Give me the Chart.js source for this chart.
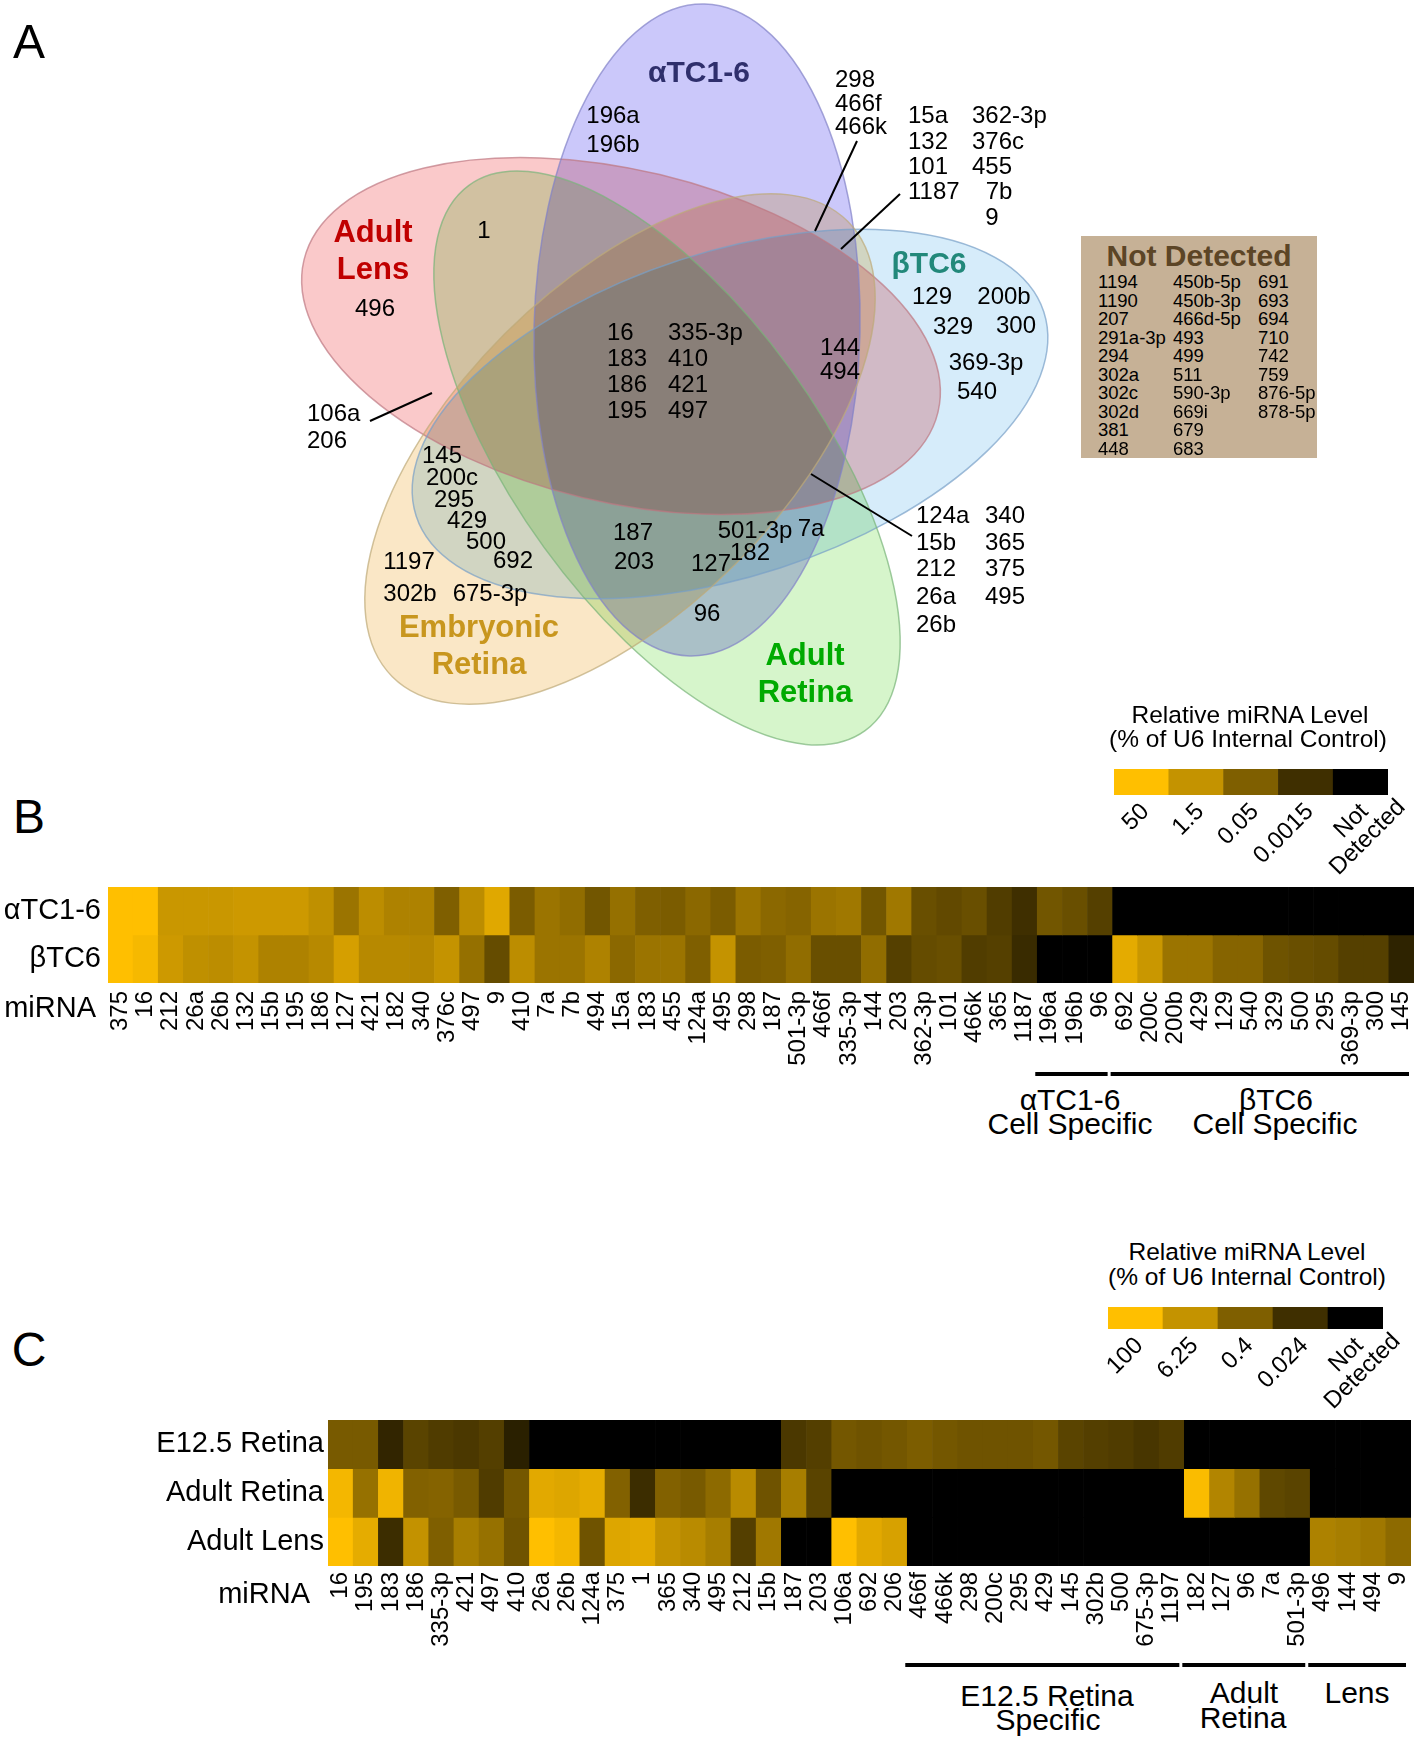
<!DOCTYPE html>
<html>
<head>
<meta charset="utf-8">
<script src="https://cdn.jsdelivr.net/npm/chart.js@4.4.1/dist/chart.umd.min.js"></script>
<style>
  body { margin: 0; background: #fff; }
  #page { position: relative; width: 1418px; height: 1739px; overflow: hidden; background: #fff;
          font-family: 'Liberation Sans', Arial, sans-serif; color: #000; }
  #page canvas { position: absolute; }
  .t { position: absolute; white-space: nowrap; line-height: 1; }
  #nd { position: absolute; left: 1081px; top: 236px; width: 236px; height: 222px; background: #c6b196; }
</style>
</head>
<body>
<div id="page">
  <canvas id="venn" width="1418" height="760" style="left:0;top:0"></canvas>
  <div id="nd"></div>
  <canvas id="legendB" width="418" height="140" style="left:1000px;top:760px"></canvas>
  <canvas id="heatB" width="1418" height="200" style="left:0;top:880px"></canvas>
  <canvas id="legendC" width="418" height="140" style="left:1000px;top:1299px"></canvas>
  <canvas id="heatC" width="1418" height="260" style="left:0;top:1412px"></canvas>
</div>
<script>
// ---------- panel A : miRNAs in each Venn region ----------
const alphaOnly = ['196a', '196b']
const lensOnly = ['496']
const lensAdultRetina = ['1']
const alphaBetaLeft = ['298', '466f', '466k']
const alphaBetaRight = ['15a', '132', '101', '1187', '362-3p', '376c', '455', '7b', '9']
const betaOnly = ['129', '200b', '329', '300', '369-3p', '540']
const allFive = ['16', '183', '186', '195', '335-3p', '410', '421', '497']
const alphaBetaLens = ['144', '494']
const lensEmbryonic = ['106a', '206']
const betaEmbryonic = ['145', '200c', '295', '429', '500', '692']
const embryonicOnly = ['1197', '302b', '675-3p']
const noLens = ['187', '203']
const alphaBetaRetina = ['501-3p', '7a', '182', '127']
const alphaRetina = ['96']
const noEmbryonic = ['124a', '15b', '212', '26a', '26b', '340', '365', '375', '495']
const notDetected = ['1194', '1190', '207', '291a-3p', '294', '302a', '302c', '302d', '381', '448',
  '450b-5p', '450b-3p', '466d-5p', '493', '499', '511', '590-3p', '669i', '679', '683',
  '691', '693', '694', '710', '742', '759', '876-5p', '878-5p']

// ---------- panel B : αTC1-6 / βTC6 ----------
const mirnaB = ['375', '16', '212', '26a', '26b', '132', '15b', '195', '186', '127', '421', '182', '340', '376c',
  '497', '9', '410', '7a', '7b', '494', '15a', '183', '455', '124a', '495', '298', '187', '501-3p', '466f',
  '335-3p', '144', '203', '362-3p', '101', '466k', '365', '1187', '196a', '196b', '96', '692', '200c', '200b',
  '429', '129', '540', '329', '500', '295', '369-3p', '300', '145']
const rowsB = ['αTC1-6', 'βTC6']
// % of U6, null = not detected
const alphaTC = [50, 50, 2, 2, 2, 2.5, 2.5, 2.5, 1.2, 0.2, 1, 0.5, 0.5, 0.05, 1, 8, 0.04, 0.2, 0.12, 0.025,
  0.15, 0.05, 0.04, 0.09, 0.04, 0.2, 0.09, 0.07, 0.2, 0.25, 0.025, 0.25, 0.015, 0.01, 0.015, 0.004, 0.0015,
  0.025, 0.015, 0.005, null, null, null, null, null, null, null, null, null, null, null, null]
const betaTC = [50, 30, 2.5, 1.2, 1, 1.5, 0.5, 0.5, 0.8, 4, 0.8, 0.8, 0.7, 1.5, 0.15, 0.012, 1, 0.2, 0.2, 0.5,
  0.09, 0.2, 0.2, 0.05, 1.5, 0.04, 0.05, 0.12, 0.015, 0.015, 0.12, 0.005, 0.012, 0.015, 0.004, 0.005, 0.001,
  null, null, null, 10, 2, 0.2, 0.2, 0.07, 0.07, 0.02, 0.015, 0.012, 0.005, 0.005, 0.0005]
const legendTicksB = [50, 1.5, 0.05, 0.0015]

// ---------- panel C : retina / lens ----------
const mirnaC = ['16', '195', '183', '186', '335-3p', '421', '497', '410', '26a', '26b', '124a', '375', '1', '365',
  '340', '495', '212', '15b', '187', '203', '106a', '692', '206', '466f', '466k', '298', '200c', '295', '429',
  '145', '302b', '500', '675-3p', '1197', '182', '127', '96', '7a', '501-3p', '496', '144', '494', '9']
const rowsC = ['E12.5 Retina', 'Adult Retina', 'Adult Lens']
const e125Retina = [0.3, 0.3, 0.012, 0.08, 0.05, 0.04, 0.06, 0.008, null, null, null, null, null, null, null,
  null, null, null, 0.04, 0.06, 0.25, 0.2, 0.25, 0.35, 0.25, 0.2, 0.2, 0.2, 0.25, 0.08, 0.06, 0.05, 0.035, 0.05,
  null, null, null, null, null, null, null, null, null]
const adultRetina = [60, 1, 50, 0.45, 0.5, 0.3, 0.05, 0.25, 25, 20, 30, 0.45, 0.02, 0.45, 0.3, 0.7, 4, 0.2, 2,
  0.08, null, null, null, null, null, null, null, null, null, null, null, null, null, null, 80, 3, 1, 0.1, 0.08,
  null, null, null, null]
const adultLens = [100, 30, 0.02, 6, 0.4, 2, 1, 0.2, 100, 60, 0.2, 20, 25, 6, 4, 2, 0.06, 1.5, null, null, 100,
  25, 15, null, null, null, null, null, null, null, null, null, null, null, null, null, null, null, null,
  2.5, 2, 1.5, 0.7]
const legendTicksC = [100, 6.25, 0.4, 0.024]

// ---------- drawing setup ----------
Chart.defaults.font.family = "'Liberation Sans', Arial, sans-serif"
Chart.defaults.color = '#000'
Chart.defaults.animation = false

const page = document.getElementById('page')
const shade = [255, 196, 127, 63]

function addText(txt, x, y, size, opts = {}) {
  const el = document.createElement('div')
  el.className = 't'
  el.textContent = txt
  el.style.left = x + 'px'
  el.style.top = y + 'px'
  el.style.fontSize = size + 'px'
  if (opts.bold) el.style.fontWeight = 'bold'
  if (opts.color) el.style.color = opts.color
  const align = opts.align || 'c'
  el.style.transform = align === 'c' ? 'translate(-50%,-50%)' : align === 'r' ? 'translate(-100%,-50%)' : 'translate(0,-50%)'
  ;(opts.parent || page).appendChild(el)
}

function shadeColor(r) {
  return `rgb(${Math.round(r)}, ${Math.round(r * 0.75)}, 0)`
}

function makeStops(ticks) {
  const s = ticks.map((t, i) => [Math.log10(t), shade[i]])
  const step = s[2][0] - s[3][0]
  s.push([s[3][0] - step, 10])
  return s
}

function levelColor(v, stops) {
  if (v === null) return '#000'
  const L = Math.log10(v)
  if (L >= stops[0][0]) return shadeColor(stops[0][1])
  for (let i = 0; i < stops.length - 1; i++) {
    const [l0, r0] = stops[i]
    const [l1, r1] = stops[i + 1]
    if (L <= l0 && L >= l1) return shadeColor(r1 + (r0 - r1) * (L - l1) / (l0 - l1))
  }
  return shadeColor(stops[stops.length - 1][1])
}

function zeroPad(s) {
  s.paddingLeft = 0
  s.paddingRight = 0
  s.paddingTop = 0
  s.paddingBottom = 0
}

// ---------- panel A ----------
const vennShapes = [
  { name: 'Adult Lens', cx: 621, cy: 336, a: 326, b: 166, rot: 13.5, fill: 'rgb(250,201,202)', line: 'rgba(190,120,130,0.7)' },
  { name: 'αTC1-6', cx: 697, cy: 330, a: 326, b: 163, rot: 91.3, fill: 'rgb(203,200,250)', line: 'rgba(130,130,200,0.7)' },
  { name: 'βTC6', cx: 730, cy: 414, a: 330, b: 162, rot: -18, fill: 'rgb(214,236,250)', line: 'rgba(120,160,200,0.7)' },
  { name: 'Adult Retina', cx: 667, cy: 458, a: 337, b: 152, rot: 54, fill: 'rgb(214,245,203)', line: 'rgba(120,180,120,0.7)' },
  { name: 'Embryonic Retina', cx: 620, cy: 449, a: 322, b: 163, rot: -45, fill: 'rgb(250,231,198)', line: 'rgba(190,170,120,0.7)' }
]
const vennLeaders = [[815, 231, 857, 141], [841, 249, 900, 194], [370, 421, 432, 393], [811, 474, 912, 536]]

const vennPlugin = {
  id: 'vennShapes',
  beforeDatasetsDraw(chart) {
    const { ctx, scales: { x, y } } = chart
    const k = x.getPixelForValue(1) - x.getPixelForValue(0)
    ctx.save()
    ctx.fillStyle = '#fff'
    ctx.fillRect(0, 0, chart.width, chart.height)
    ctx.globalCompositeOperation = 'multiply'
    vennShapes.forEach(s => {
      ctx.beginPath()
      ctx.ellipse(x.getPixelForValue(s.cx), y.getPixelForValue(s.cy), s.a * k, s.b * k, s.rot * Math.PI / 180, 0, Math.PI * 2)
      ctx.fillStyle = s.fill
      ctx.fill()
    })
    ctx.globalCompositeOperation = 'source-over'
    vennShapes.forEach(s => {
      ctx.beginPath()
      ctx.ellipse(x.getPixelForValue(s.cx), y.getPixelForValue(s.cy), s.a * k, s.b * k, s.rot * Math.PI / 180, 0, Math.PI * 2)
      ctx.strokeStyle = s.line
      ctx.lineWidth = 1.5
      ctx.stroke()
    })
    ctx.strokeStyle = '#000'
    ctx.lineWidth = 2
    vennLeaders.forEach(([x1, y1, x2, y2]) => {
      ctx.beginPath()
      ctx.moveTo(x.getPixelForValue(x1), y.getPixelForValue(y1))
      ctx.lineTo(x.getPixelForValue(x2), y.getPixelForValue(y2))
      ctx.stroke()
    })
    ctx.restore()
  }
}

new Chart(document.getElementById('venn'), {
  type: 'scatter',
  data: { datasets: [{ data: vennShapes.map(s => ({ x: s.cx, y: s.cy })), pointRadius: 0 }] },
  options: {
    responsive: false,
    events: [],
    layout: { padding: 0, autoPadding: false },
    plugins: { legend: { display: false }, tooltip: { enabled: false } },
    scales: {
      x: { type: 'linear', min: 0, max: 1418, display: false },
      y: { type: 'linear', min: 0, max: 760, reverse: true, display: false }
    }
  },
  plugins: [vennPlugin]
})

// where each region's names sit
const vennSpots = [
  [alphaOnly, [[613, 115, 'c'], [613, 144, 'c']]],
  [lensOnly, [[375, 308, 'c']]],
  [lensAdultRetina, [[484, 230, 'c']]],
  [alphaBetaLeft, [[835, 79, 'l'], [835, 103, 'l'], [835, 126, 'l']]],
  [alphaBetaRight, [[908, 115, 'l'], [908, 141, 'l'], [908, 166, 'l'], [908, 191, 'l'], [972, 115, 'l'],
    [972, 141, 'l'], [972, 166, 'l'], [999, 191, 'c'], [992, 217, 'c']]],
  [betaOnly, [[932, 296, 'c'], [1004, 296, 'c'], [953, 326, 'c'], [1016, 325, 'c'], [986, 362, 'c'], [977, 391, 'c']]],
  [allFive, [[607, 332, 'l'], [607, 358, 'l'], [607, 384, 'l'], [607, 410, 'l'], [668, 332, 'l'], [668, 358, 'l'],
    [668, 384, 'l'], [668, 410, 'l']]],
  [alphaBetaLens, [[840, 347, 'c'], [840, 371, 'c']]],
  [lensEmbryonic, [[307, 413, 'l'], [307, 440, 'l']]],
  [betaEmbryonic, [[442, 455, 'c'], [452, 477, 'c'], [454, 499, 'c'], [467, 520, 'c'], [486, 541, 'c'], [513, 560, 'c']]],
  [embryonicOnly, [[409, 561, 'c'], [410, 593, 'c'], [490, 593, 'c']]],
  [noLens, [[633, 532, 'c'], [634, 561, 'c']]],
  [alphaBetaRetina, [[755, 530, 'c'], [811, 528, 'c'], [750, 552, 'c'], [711, 563, 'c']]],
  [alphaRetina, [[707, 613, 'c']]],
  [noEmbryonic, [[916, 515, 'l'], [916, 542, 'l'], [916, 568, 'l'], [916, 596, 'l'], [916, 624, 'l'], [985, 515, 'l'],
    [985, 542, 'l'], [985, 568, 'l'], [985, 596, 'l']]]
]
vennSpots.forEach(([names, spots]) => {
  names.forEach((n, i) => addText(n, spots[i][0], spots[i][1], 24, { align: spots[i][2] }))
})

addText('αTC1-6', 699, 72, 30, { bold: true, color: '#2f2f6c' })
addText('Adult', 373, 231, 31, { bold: true, color: '#c00000' })
addText('Lens', 373, 268, 31, { bold: true, color: '#c00000' })
addText('βTC6', 929, 263, 30, { bold: true, color: '#22887a' })
addText('Embryonic', 479, 626, 31, { bold: true, color: '#c8961e' })
addText('Retina', 479, 663, 31, { bold: true, color: '#c8961e' })
addText('Adult', 805, 654, 31, { bold: true, color: '#00aa00' })
addText('Retina', 805, 691, 31, { bold: true, color: '#00aa00' })

// not detected box
const nd = document.getElementById('nd')
addText('Not Detected', 118, 20, 30, { bold: true, color: '#5c4526', parent: nd })
const ndCols = [17, 92, 177]
notDetected.forEach((n, i) => {
  const col = Math.floor(i / 10)
  const row = i % 10
  addText(n, ndCols[col], 46 + row * 18.5, 18.5, { align: 'l', parent: nd })
})

addText('A', 29, 42, 48)
addText('B', 29, 817, 48)
addText('C', 29, 1350, 48)

// ---------- heatmaps ----------
function bracketPlugin(groups, yPos) {
  return {
    id: 'brackets',
    afterDraw(chart) {
      const { ctx, scales: { x } } = chart
      const labels = x.getLabels()
      const half = (x.getPixelForValue(1) - x.getPixelForValue(0)) / 2
      ctx.save()
      ctx.fillStyle = '#000'
      groups.forEach(([from, to]) => {
        const left = x.getPixelForValue(labels.indexOf(from)) - half - 2
        const right = x.getPixelForValue(labels.indexOf(to)) + half - 5
        ctx.fillRect(left, yPos - 2, right - left, 4)
      })
      ctx.restore()
    }
  }
}

function makeHeatmap(id, labels, rows, rowNames, stops, box, groups) {
  const n = rows.length
  return new Chart(document.getElementById(id), {
    type: 'bar',
    data: {
      labels: labels,
      datasets: rows.map((vals, i) => ({
        label: rowNames[i],
        data: vals.map(() => [n - 1 - i, n - i]),
        backgroundColor: vals.map(v => levelColor(v, stops)),
        borderWidth: 0,
        barPercentage: 1,
        categoryPercentage: 1,
        grouped: false
      }))
    },
    options: {
      responsive: false,
      events: [],
      layout: { padding: { top: box.top, right: box.right, left: 0, bottom: 0 }, autoPadding: false },
      plugins: { legend: { display: false }, tooltip: { enabled: false } },
      scales: {
        x: {
          grid: { display: false, drawTicks: false },
          border: { display: false },
          ticks: { autoSkip: false, minRotation: 90, maxRotation: 90, padding: box.xPad, font: { size: 24 } },
          afterFit: s => { s.height = box.xHeight; zeroPad(s) }
        },
        y: {
          min: 0,
          max: n,
          grid: { display: false, drawTicks: false },
          border: { display: false },
          afterBuildTicks: s => { s.ticks = rowNames.map((_, i) => ({ value: n - 0.5 - i })) },
          ticks: { padding: box.yPad, font: { size: 29 }, callback: v => rowNames[Math.round(n - 0.5 - v)] },
          afterFit: s => { s.width = box.yWidth; zeroPad(s) }
        }
      }
    },
    plugins: [bracketPlugin(groups, box.bracketY)]
  })
}

makeHeatmap('heatB', mirnaB, [alphaTC, betaTC], rowsB, makeStops(legendTicksB),
  { top: 7, right: 4, xHeight: 97, yWidth: 108, xPad: 8, yPad: 7, bracketY: 194 },
  [['196a', '96'], ['692', '145']])

makeHeatmap('heatC', mirnaC, [e125Retina, adultRetina, adultLens], rowsC, makeStops(legendTicksC),
  { top: 8, right: 7, xHeight: 106, yWidth: 328, xPad: 6, yPad: 4, bracketY: 253 },
  [['466f', '1197'], ['182', '501-3p'], ['496', '9']])

// ---------- colour keys ----------
// tick labels at 45 degrees, the lines of a two-line label centred on each other
const keyLabelPlugin = {
  id: 'keyLabels',
  afterDraw(chart) {
    const { ctx, scales: { x }, chartArea } = chart
    const labels = x.getLabels()
    ctx.save()
    ctx.font = "24px 'Liberation Sans', Arial, sans-serif"
    ctx.fillStyle = '#000'
    ctx.textAlign = 'right'
    ctx.textBaseline = 'middle'
    labels.forEach((lab, i) => {
      const lines = [].concat(lab)
      const w0 = ctx.measureText(lines[0]).width
      ctx.save()
      ctx.translate(x.getPixelForTick(i) + 4, chartArea.bottom + 13)
      ctx.rotate(-Math.PI / 4)
      lines.forEach((ln, j) => {
        const w = ctx.measureText(ln).width
        ctx.fillText(ln, -w0 / 2 + w / 2, j * 23)
      })
      ctx.restore()
    })
    ctx.restore()
  }
}

function makeLegend(id, ticks, box) {
  const labels = ticks.map(String).concat([['Not', 'Detected']])
  const colors = ticks.map((t, i) => shadeColor(shade[i])).concat(['#000'])
  return new Chart(document.getElementById(id), {
    type: 'bar',
    data: {
      labels: labels,
      datasets: [{ data: labels.map(() => 1), backgroundColor: colors, borderWidth: 0, barPercentage: 1, categoryPercentage: 1 }]
    },
    options: {
      responsive: false,
      events: [],
      layout: { padding: { top: box.top, left: box.left, right: box.right, bottom: 0 }, autoPadding: false },
      plugins: { legend: { display: false }, tooltip: { enabled: false } },
      scales: {
        x: {
          grid: { display: false, drawTicks: false },
          border: { display: false },
          ticks: { display: false },
          afterFit: s => { s.height = box.xHeight; zeroPad(s) }
        },
        y: { display: false, min: 0, max: 1 }
      }
    },
    plugins: [keyLabelPlugin]
  })
}

makeLegend('legendB', legendTicksB, { top: 9, left: 114, right: 30, xHeight: 105 })
makeLegend('legendC', legendTicksC, { top: 8, left: 108, right: 35, xHeight: 110 })

addText('Relative miRNA Level', 1250, 715, 24.5)
addText('(% of U6 Internal Control)', 1248, 739, 24.5)
addText('Relative miRNA Level', 1247, 1252, 24.5)
addText('(% of U6 Internal Control)', 1247, 1277, 24.5)

// axis captions and group captions
addText('miRNA', 96, 1007, 29, { align: 'r' })
addText('miRNA', 310, 1593, 29, { align: 'r' })

addText('αTC1-6', 1070, 1100, 30)
addText('Cell Specific', 1070, 1124, 30)
addText('βTC6', 1276, 1100, 30)
addText('Cell Specific', 1275, 1124, 30)

addText('E12.5 Retina', 1047, 1696, 30)
addText('Specific', 1048, 1720, 30)
addText('Adult', 1244, 1693, 30)
addText('Retina', 1243, 1718, 30)
addText('Lens', 1357, 1693, 30)
</script>
</body>
</html>
